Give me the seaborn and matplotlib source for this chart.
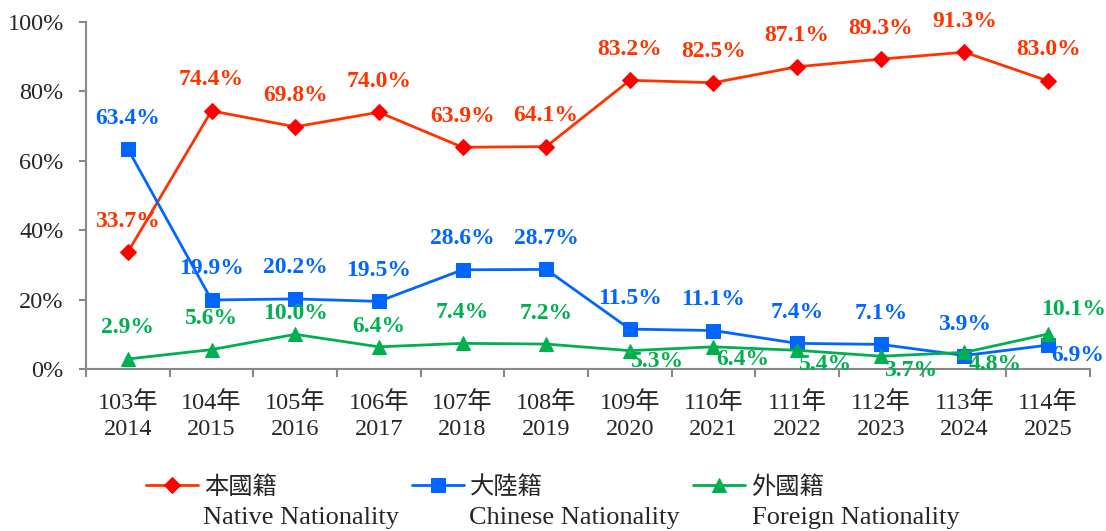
import numpy as np
import pandas as pd
import matplotlib
matplotlib.use("Agg")
import matplotlib.pyplot as plt
import seaborn as sns

# ---- data ----
roc_years = ["103年", "104年", "105年", "106年", "107年", "108年",
             "109年", "110年", "111年", "112年", "113年", "114年"]
ad_years = ["2014", "2015", "2016", "2017", "2018", "2019",
            "2020", "2021", "2022", "2023", "2024", "2025"]
native = [33.7, 74.4, 69.8, 74.0, 63.9, 64.1, 83.2, 82.5, 87.1, 89.3, 91.3, 83.0]
chinese = [63.4, 19.9, 20.2, 19.5, 28.6, 28.7, 11.5, 11.1, 7.4, 7.1, 3.9, 6.9]
foreign = [2.9, 5.6, 10.0, 6.4, 7.4, 7.2, 5.3, 6.4, 5.4, 3.7, 4.8, 10.1]
series_zh = ["本國籍", "大陸籍", "外國籍"]
series_en = ["Native Nationality", "Chinese Nationality", "Foreign Nationality"]

# label offsets (pixels) for the value annotations
above = (0, 31)
native_off = [above] * 12
chinese_off = [above] * 11 + [(30, -10)]
foreign_off = [above, above, (0, 21), (0, 20), above, above,
               (28, -11), (29, -13), (28, -14), (30, -14), (31, -12), (25, 24)]

sns.set_style("ticks")
plt.rcParams["font.family"] = ["Liberation Serif", "Noto Sans CJK TC"]

fig = plt.figure(figsize=(11.06, 5.31), dpi=100)
ax = fig.add_axes([0.0778, 0.305, 0.9077, 0.6536])

x_cat = [f"{r}\n{a}" for r, a in zip(roc_years, ad_years)]
df = pd.DataFrame({"year": x_cat * 3,
                   "share": native + chinese + foreign,
                   "group": np.repeat(series_zh, len(x_cat))})

styles = {
    "本國籍": dict(line="#FF3300", face="#FF0000", text="#FF3300", marker="D", ms=8),
    "大陸籍": dict(line="#0066FF", face="#0066FF", text="#0066FF", marker="s", ms=10),
    "外國籍": dict(line="#00B050", face="#00B050", text="#00B050", marker="^", ms=10),
}
offsets = {"本國籍": native_off, "大陸籍": chinese_off, "外國籍": foreign_off}

for name in series_zh:
    st = styles[name]
    sub = df[df["group"] == name]
    sns.lineplot(data=sub, x="year", y="share", ax=ax, color=st["line"],
                 linewidth=2, marker=st["marker"], markersize=st["ms"],
                 markerfacecolor=st["face"], markeredgecolor=st["face"],
                 sort=False, label=name)
    for i, v in enumerate(sub["share"]):
        ax.annotate(f"{v:.1f}%", (i, v), xytext=offsets[name][i],
                    textcoords="offset pixels", ha="center", va="center",
                    fontsize=17, fontweight="bold", color=st["text"],
                    family="Liberation Serif")

ax.set_xlim(-0.5, len(x_cat) - 0.5)
ax.set_ylim(0, 100)
ax.set_yticks(np.arange(0, 101, 20))
ax.set_yticklabels([f"{t}%" for t in range(0, 101, 20)], fontsize=17.5)
ax.set_xticks(np.arange(len(x_cat)))
ax.set_xticklabels(x_cat, fontsize=17.5, linespacing=1.3)
ax.set_xticks(np.arange(-0.5, len(x_cat)), minor=True)
ax.tick_params(axis="x", which="major", length=0, pad=16)
ax.tick_params(axis="x", which="minor", length=6, color="#888888", width=1.5)
ax.tick_params(axis="y", length=5, color="#888888", width=1.5, pad=11)
ax.set_xlabel("")
ax.set_ylabel("")
sns.despine(ax=ax)
for s in ["left", "bottom"]:
    ax.spines[s].set_color("#888888")
    ax.spines[s].set_linewidth(1.5)

# legend: one entry each, placed under the plot, English names underneath
h, l = ax.get_legend_handles_labels()
ax.get_legend().remove()
for handle, lab, x0 in zip(h, l, [146, 412, 693]):
    fig.legend([handle], [lab], loc="center left",
               bbox_to_anchor=(x0 / 1106, 1 - 487 / 531),
               frameon=False, borderpad=0, borderaxespad=0,
               handlelength=2.15, handletextpad=0.25,
               prop={"family": ["Noto Sans CJK TC"], "size": 17.5})

for xpos, txt in zip([203, 469, 752], series_en):
    fig.text(xpos / 1106, 1 - 518 / 531, txt, fontsize=19, va="center",
             ha="left", family="Liberation Serif")

fig.savefig("out.png", dpi=100)
